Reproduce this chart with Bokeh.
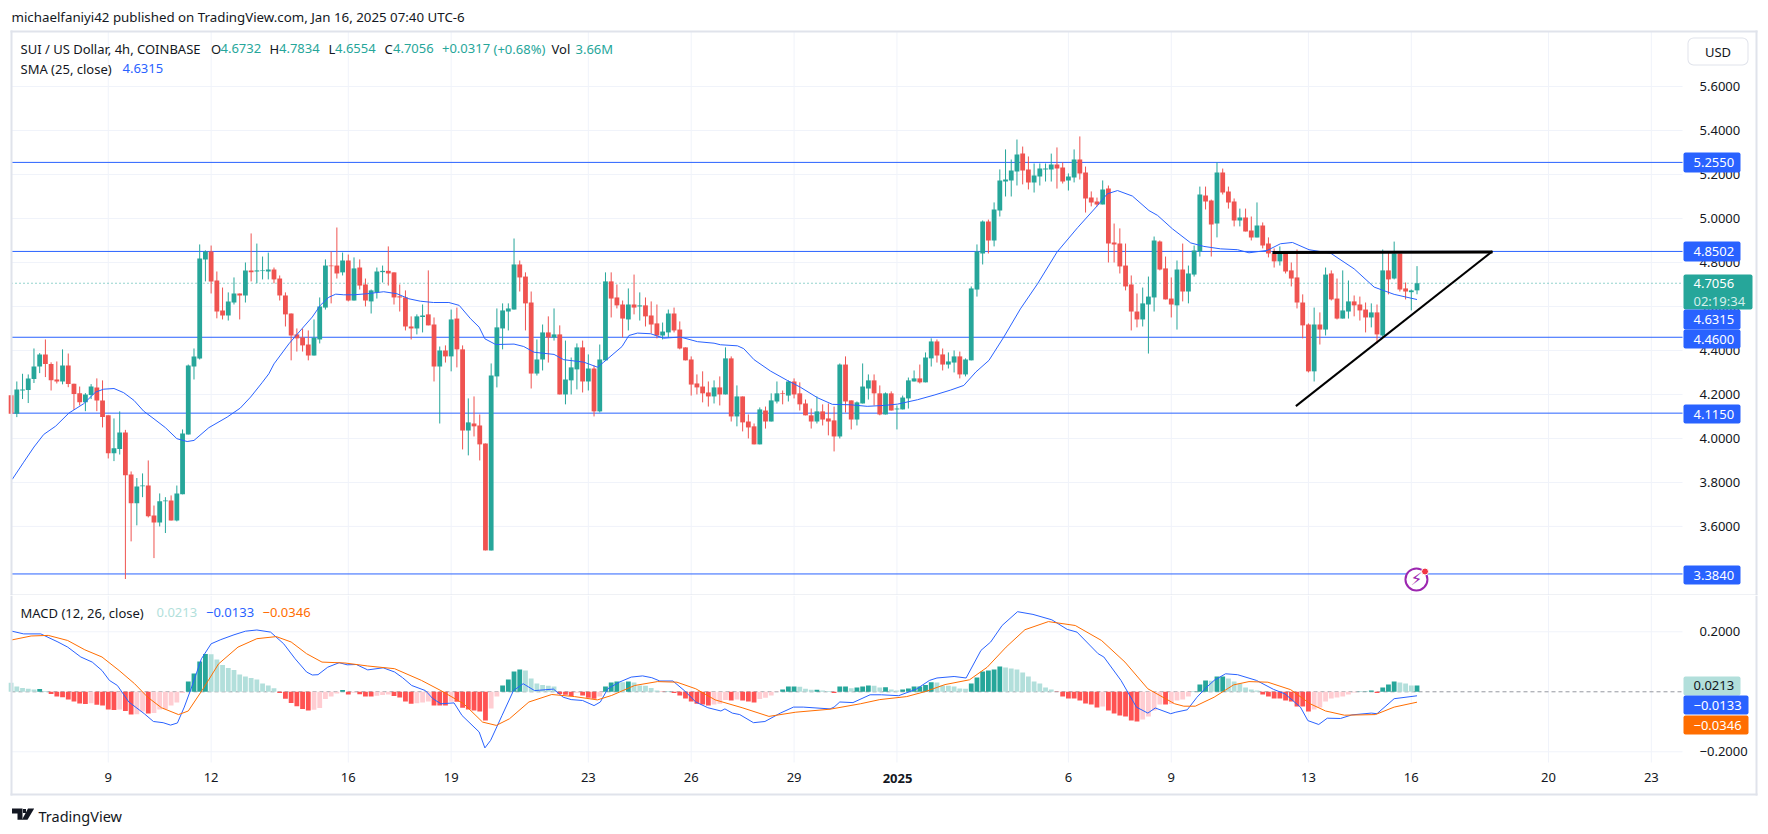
from bokeh.plotting import figure
from bokeh.layouts import column
from bokeh.embed import file_html
from bokeh.resources import INLINE
from bokeh.core.properties import value
from bokeh.models import (Range1d, FixedTicker, Label, BoxAnnotation, PolyAnnotation,
                          ColumnDataSource, NumeralTickFormatter)

opens = [4.196,4.112,4.218,4.220,4.270,4.327,4.382,4.339,4.268,4.259,4.332,4.249,4.205,4.165,4.197,4.232,4.173,4.105,3.933,3.952,
4.027,3.836,3.705,3.783,3.786,3.650,3.618,3.714,3.718,3.627,3.746,4.018,4.327,4.364,4.814,4.850,4.718,4.582,4.559,4.618,
4.659,4.650,4.764,4.759,4.761,4.759,4.768,4.727,4.650,4.568,4.473,4.459,4.427,4.377,4.450,4.595,4.786,4.786,4.755,4.809,
4.627,4.777,4.700,4.623,4.664,4.756,4.762,4.755,4.646,4.641,4.509,4.500,4.552,4.564,4.518,4.327,4.400,
4.373,4.545,4.405,4.036,4.068,4.059,3.977,3.491,4.282,4.500,4.577,4.586,4.791,4.736,4.618,4.295,4.359,4.482,4.459,4.473,4.200,
4.264,4.314,4.414,4.259,4.318,4.123,4.355,4.714,4.641,4.609,4.541,4.609,4.600,4.605,4.559,4.523,4.468,4.482,4.568,4.495,4.414,4.359,
4.250,4.236,4.209,4.191,4.232,4.200,4.364,4.100,4.191,4.077,4.055,3.973,4.127,4.077,4.168,4.205,4.195,4.259,4.205,4.159,
4.105,4.077,4.123,4.091,4.082,4.009,4.336,4.173,4.086,4.159,4.227,4.264,4.205,4.109,4.205,4.132,4.132,4.182,4.259,4.273,
4.255,4.364,4.441,4.382,4.336,
4.345,4.373,4.291,4.355,4.677,4.841,4.986,4.900,5.036,5.168,5.173,5.214,5.295,5.223,5.164,5.191,5.223,5.223,5.245,5.232,
5.173,5.186,5.268,5.209,5.095,5.077,5.064,5.136,4.891,4.886,4.786,4.700,4.577,4.541,4.609,4.641,4.895,4.773,4.636,4.605,
4.768,4.668,4.745,4.850,5.105,5.082,4.977,5.209,5.123,5.077,4.991,5.005,4.945,4.914,4.968,4.886,4.841,4.805,4.841,4.764,
4.732,4.618,4.518,4.305,4.518,4.495,4.750,4.636,4.545,4.577,4.623,4.609,4.586,4.550,4.573,4.468,4.764,4.727,4.841,4.682,4.665,4.6732]
highs = [4.196,4.259,4.294,4.291,4.409,4.388,4.450,4.346,4.350,4.405,4.386,4.249,4.236,4.206,4.247,4.273,4.264,4.105,4.091,4.123,
4.039,3.850,3.820,3.841,3.900,3.695,3.750,3.733,3.741,3.786,4.041,4.336,4.409,4.882,4.855,4.877,4.759,4.686,4.664,4.732,
4.659,4.800,4.932,4.886,4.827,4.845,4.777,4.741,4.664,4.568,4.500,4.500,4.491,4.541,4.641,4.814,4.850,4.959,4.845,4.836,
4.823,4.814,4.727,4.677,4.777,4.786,4.873,4.755,4.700,4.673,4.555,4.564,4.609,4.764,4.550,4.418,4.423,
4.586,4.595,4.423,4.182,4.191,4.109,3.977,4.341,4.591,4.614,4.614,4.909,4.809,4.755,4.668,4.450,4.518,4.555,4.591,4.514,4.445,
4.368,4.432,4.445,4.382,4.332,4.427,4.755,4.755,4.700,4.627,4.682,4.745,4.664,4.641,4.623,4.609,4.527,4.586,4.595,4.532,4.414,4.373,
4.291,4.305,4.259,4.264,4.282,4.414,4.373,4.241,4.191,4.109,4.068,4.141,4.145,4.205,4.259,4.218,4.264,4.273,4.255,4.177,
4.136,4.191,4.155,4.159,4.145,4.341,4.373,4.173,4.168,4.341,4.291,4.291,4.241,4.209,4.214,4.150,4.195,4.277,4.309,4.336,
4.391,4.455,4.450,4.409,4.391,
4.400,4.395,4.364,4.691,4.882,4.991,4.995,5.073,5.223,5.314,5.268,5.359,5.327,5.282,5.250,5.250,5.250,5.295,5.323,5.255,
5.205,5.314,5.373,5.236,5.123,5.095,5.173,5.150,4.977,4.955,4.886,4.741,4.659,4.686,4.736,4.918,4.900,4.827,4.732,4.809,
4.886,4.786,4.877,5.145,5.145,5.086,5.255,5.227,5.145,5.091,5.045,5.045,5.009,5.073,4.982,4.914,4.864,4.873,4.845,4.800,
4.859,4.655,4.523,4.595,4.573,4.777,4.764,4.727,4.764,4.718,4.650,4.645,4.618,4.614,4.609,4.859,4.845,4.895,4.841,4.709,4.677,4.7834]
lows = [4.112,4.097,4.179,4.161,4.252,4.297,4.279,4.218,4.250,4.246,4.233,4.130,4.150,4.124,4.179,4.124,4.050,3.909,3.897,3.927,
3.361,3.532,3.605,3.733,3.641,3.456,3.600,3.570,3.627,3.623,3.746,4.018,4.268,4.359,4.714,4.659,4.546,4.541,4.536,4.609,
4.541,4.618,4.714,4.705,4.723,4.723,4.705,4.627,4.509,4.355,4.395,4.395,4.355,4.377,4.432,4.586,4.614,4.727,4.741,4.623,
4.627,4.677,4.600,4.568,4.636,4.709,4.695,4.609,4.577,4.491,4.450,4.473,4.482,4.514,4.259,4.068,4.345,
4.305,4.323,3.950,3.923,4.009,3.900,3.491,3.491,4.232,4.405,4.491,4.586,4.668,4.491,4.227,4.286,4.309,4.345,4.445,4.200,4.155,
4.200,4.223,4.209,4.218,4.100,4.118,4.355,4.550,4.591,4.459,4.491,4.564,4.536,4.509,4.477,4.455,4.450,4.459,4.482,4.405,4.355,4.195,
4.200,4.164,4.145,4.159,4.150,4.200,4.077,4.055,4.032,4.000,3.973,3.973,4.045,4.077,4.159,4.155,4.168,4.182,4.127,4.105,
4.045,4.068,4.059,4.014,3.941,4.000,4.118,4.041,4.059,4.159,4.177,4.150,4.105,4.109,4.127,4.041,4.132,4.136,4.259,4.250,
4.255,4.327,4.345,4.309,4.318,
4.300,4.273,4.282,4.355,4.645,4.791,4.841,4.873,5.009,5.100,5.100,5.150,5.155,5.132,5.118,5.150,5.168,5.168,5.136,5.159,
5.127,5.164,5.177,5.027,5.055,5.055,5.064,4.800,4.800,4.750,4.673,4.491,4.505,4.509,4.386,4.577,4.764,4.632,4.550,4.495,
4.623,4.614,4.736,4.827,5.041,4.827,4.914,5.109,5.045,4.964,4.964,4.941,4.900,4.914,4.864,4.823,4.777,4.786,4.750,4.691,
4.591,4.455,4.300,4.259,4.427,4.468,4.627,4.541,4.545,4.545,4.555,4.536,4.482,4.505,4.432,4.459,4.655,4.723,4.668,4.632,4.582,4.6554]
closes = [4.112,4.223,4.223,4.273,4.327,4.382,4.338,4.265,4.259,4.332,4.247,4.202,4.165,4.200,4.236,4.173,4.097,3.933,3.955,4.027,
3.833,3.705,3.782,3.786,3.646,3.618,3.714,3.718,3.627,3.750,4.023,4.332,4.373,4.818,4.850,4.714,4.577,4.559,4.623,4.659,
4.650,4.764,4.755,4.764,4.764,4.768,4.723,4.650,4.564,4.468,4.455,4.423,4.377,4.458,4.600,4.786,4.783,4.750,4.809,4.627,
4.773,4.695,4.627,4.673,4.759,4.762,4.750,4.641,4.641,4.509,4.500,4.555,4.559,4.514,4.327,4.400,4.373,
4.541,4.405,4.036,4.073,4.055,3.973,3.491,4.286,4.505,4.582,4.591,4.791,4.732,4.614,4.295,4.359,4.482,4.459,4.473,4.200,4.268,
4.323,4.414,4.259,4.318,4.123,4.359,4.714,4.636,4.605,4.545,4.609,4.595,4.605,4.555,4.518,4.468,4.486,4.568,4.491,4.409,4.355,4.245,
4.232,4.205,4.191,4.232,4.200,4.364,4.100,4.191,4.073,4.050,3.973,4.132,4.077,4.173,4.205,4.202,4.259,4.200,4.155,4.105,
4.077,4.123,4.086,4.077,4.009,4.336,4.168,4.086,4.164,4.236,4.264,4.205,4.109,4.205,4.127,4.136,4.186,4.264,4.273,4.255,
4.368,4.441,4.377,4.336,4.350,
4.373,4.291,4.359,4.682,4.850,4.986,4.900,5.041,5.173,5.177,5.218,5.291,5.218,5.164,5.195,5.227,5.227,5.245,5.227,5.168,
5.191,5.268,5.205,5.091,5.073,5.064,5.132,4.886,4.882,4.782,4.691,4.577,4.541,4.614,4.645,4.900,4.768,4.632,4.609,4.768,
4.668,4.750,4.855,5.109,5.077,4.973,5.209,5.118,5.073,4.991,5.005,4.941,4.914,4.968,4.877,4.841,4.805,4.845,4.759,4.727,
4.618,4.514,4.305,4.518,4.495,4.745,4.632,4.545,4.582,4.623,4.605,4.582,4.550,4.573,4.473,4.764,4.723,4.841,4.677,4.668,4.673,4.7056]

sma_x = [0.2,2.2,4,5.7,7.8,10.1,12.7,14.8,16.2,18,19.7,21.5,23.2,25,27,29,30.8,32,34.6,37.8,40.1,41.9,43.9,45.1,46,48.6,50.9,52.7,54.1,55.6,56.8,58.2,60,62.3,65.2,67.5,69.6,71.6,73.9,76.6,
78.4,80.4,81.9,82.9,84.8,88,89.7,91.5,95,96.7,100.2,102.6,103.7,106.9,108.1,109.6,111.9,114.2,117.1,120.1,123,124.1,127.1,128.2,130,132.9,135.8,138.1,141.1,143.7,146.9,149.8,152.7,155.1,158.6,161.5,164.4,
166.7,168.8,171.1,173.7,176.6,179.6,183,186.6,190.1,191.8,193.6,196.2,199.1,200.6,203.2,206.4,208.7,211.6,214.6,216.6,219.8,222.1,224.2,227.1,230.9,235,238.5,242,246]
sma_y = [3.814,3.892,3.961,4.018,4.056,4.115,4.158,4.211,4.224,4.227,4.208,4.173,4.124,4.089,4.049,3.999,3.986,3.991,4.049,4.097,4.138,4.188,4.253,4.294,4.339,4.430,4.499,4.552,4.605,4.642,4.656,4.653,4.653,4.658,4.667,4.658,4.635,4.624,4.618,4.618,
4.605,4.544,4.506,4.453,4.427,4.429,4.418,4.392,4.382,4.358,4.347,4.324,4.347,4.418,4.468,4.479,4.476,4.456,4.461,4.440,4.433,4.426,4.421,4.408,4.358,4.306,4.264,4.233,4.185,4.155,4.153,4.146,4.150,4.156,4.176,4.197,4.220,
4.241,4.302,4.355,4.461,4.589,4.703,4.847,4.958,5.059,5.112,5.127,5.102,5.036,5.014,4.953,4.889,4.873,4.862,4.858,4.844,4.855,4.885,4.891,4.858,4.842,4.771,4.688,4.655,4.6315]

macd_x = [0.15,2.2,5.2,8.2,9.9,12.2,14.2,15.9,17.2,18.6,20.6,23.3,24.9,26.6,27.9,29.1,30.3,31.6,33.3,35,36.7,39,41,43,45.4,47.7,49.7,51.7,52.7,53.7,55.4,57.4,58.8,60.4,62.4,65.1,67.1,68.5,70.1,72.5,73.8,75.2,77.5,78.9,81.9,82.9,83.9,85.9,87.9,89.6,91.6,94.9,96.6,98,100,102,
103.1,104.4,106.4,108.5,110.5,112.1,113.5,115.8,117.8,119.8,121.9,124.2,124.9,126.2,127.5,129.9,131.9,134.6,136.9,138.6,143.3,144,145,147.3,150.3,152.3,155.3,158.4,160.7,162,165,167.1,169.7,171.4,173.4,176.1,178.8,182.1,184.8,186.5,190.2,191.2,194.2,196.9,198.9,200.2,202.9,
203.8,205.8,207.5,208.9,210.5,212.5,214.6,217.9,220.9,222.9,225.6,226.9,228.8,230.3,232.6,234.6,238,239,242,246]
macd_y = [.202,.193,.193,.166,.149,.116,.099,.071,.038,.021,-.034,-.073,-.099,-.103,-.111,-.104,-.051,.016,.110,.160,.174,.190,.202,.206,.199,.160,.110,.066,.056,.057,.082,.097,.090,.091,.073,.080,.066,.047,.021,.004,-.023,-.040,-.037,-.079,-.134,-.187,-.162,-.079,.004,.027,.004,.009,-.018,-.026,-.029,-.046,
-.034,.010,.032,.049,.053,.047,.036,.036,.004,-.034,-.053,-.064,-.057,-.071,-.076,-.103,-.099,-.071,-.051,-.051,-.057,-.051,-.034,-.036,-.010,-.010,-.013,.009,.038,.046,.051,.046,.138,.166,.221,.267,.258,.240,.208,.199,.127,.116,.038,-.051,-.071,-.054,-.073,
-.068,-.060,-.018,.010,.038,.060,.057,.038,.008,-.007,-.051,-.096,-.109,-.088,-.089,-.077,-.071,-.073,-.023,-.0133]
signal_x = [0.15,3.5,6.5,9.9,12.9,15.9,18.9,21.6,23.9,26.3,29.3,31,33.6,36.3,39.7,43,46.4,49,51.7,54.4,58.4,62.4,67.1,71.8,75.2,79.2,82.5,84.9,87.2,90.6,94.6,98.6,102.6,
105.1,109.1,113.1,116.5,119.8,123.2,127.9,132.6,137.3,143.3,148.6,152,156.7,160,163.4,167.7,170.8,174.1,177.4,181.5,186.2,190.8,194.9,198.9,203.6,
205.2,207.2,210.5,213.9,216.6,219.9,223.9,227.3,230,233.3,238.7,242,246]
signal_y = [.173,.186,.188,.171,.140,.116,.071,.027,-.018,-.053,-.076,-.064,.010,.093,.149,.177,.184,.166,.127,.099,.096,.086,.077,.038,.004,-.040,-.101,-.112,-.090,-.034,-.009,-.016,-.027,
-.012,.021,.034,.032,.010,-.027,-.053,-.082,-.068,-.058,-.040,-.026,-.016,.001,.024,.040,.082,.149,.207,.234,.221,.171,.099,.010,-.040,
-.048,-.048,-.018,.023,.034,.032,.007,-.040,-.064,-.078,-.076,-.051,-.0346]
hist = [.030,.018,.013,.010,.008,.009,.003,
-.007,-.016,-.018,-.026,-.032,-.039,-.041,-.038,-.043,-.046,-.059,-.061,-.059,-.064,-.076,-.075,-.066,-.072,-.071,-.059,-.058,-.046,-.036,-.004,
.034,.061,.101,.126,.125,.108,.089,.079,.073,.058,.051,.046,.041,.028,.021,.012,
-.004,-.023,-.037,-.048,-.057,-.062,-.060,-.054,-.024,-.016,-.006,
.006,
-.009,-.003,-.008,-.016,-.016,-.013,-.011,-.009,-.014,-.019,-.032,-.040,-.038,-.036,-.032,-.046,-.046,-.046,-.033,-.033,-.053,-.059,-.062,-.066,-.096,-.056,-.016,
.021,.041,.068,.074,.071,.044,.028,.023,.020,.018,
-.007,-.010,-.014,-.003,-.012,-.020,-.023,-.016,
.018,.031,.034,.032,.034,.031,.021,.020,.013,.004,-.001,.001,-.004,-.012,-.022,-.032,-.040,-.042,-.046,-.042,-.040,-.027,-.029,-.026,-.029,-.032,-.036,-.024,-.020,-.012,-.001,
.008,.018,.018,.017,.010,.007,.007,.004,.003,-.004,.018,.018,.012,.014,.018,.021,.020,.014,.015,.008,.004,.008,.011,.018,.018,.023,.032,.031,.021,.020,.018,.011,.010,
.028,.048,.068,.071,.074,.084,.081,.078,.074,.064,.051,.034,.028,.014,.008,
-.001,-.016,-.022,-.022,-.029,-.039,-.042,-.052,-.049,-.062,-.072,-.079,-.082,-.096,-.099,-.092,-.082,-.062,-.042,-.042,-.041,-.029,-.026,-.016,.001,
.024,.038,.037,.051,.051,.044,.034,.028,.014,.008,.004,-.009,-.016,-.022,-.022,-.029,-.032,-.049,-.049,-.066,-.059,-.052,-.032,-.022,-.019,-.016,-.009,-.002,.001,.001,.004,-.004,.014,.024,.034,.031,.028,.021,.0213]

levels = [5.255, 4.8502, 4.46, 4.115, 3.384]
price_ticks = [3.6,3.8,4.0,4.2,4.4,4.6,4.8,5.0,5.2,5.4,5.6]
macd_ticks = [-0.2, 0.2]
day_bars = [17,35,59,77,101,119,137,155,185,203,227,245,269,287]
day_labels = ["9","12","16","19","23","26","29"," ","6","9","13","16","20","23"]
trend_x = [224.8, 259.2]
trend_y = [4.147, 4.851]
flat_x = [220.7, 259.2]
flat_y = [4.845, 4.848]
last_price = 4.7056

BLUE="#2962ff"; UP="#26a69a"; DOWN="#ef5350"; INK="#131722"; GRID="#f0f3fa"; EDGE="#e0e3eb"
FONT="Noto Sans"
XR=(-1.855,307.5)          # whole canvas width
PANE_L, PANE_R = 0.07, 292.46   # bars range covered by the panes
TOP_H, LOW_H = 595, 239

def mk(h, yr, y0, y1, ticks, **kw):
    p = figure(width=1768, height=h, frame_width=1768, frame_height=h,
               x_range=Range1d(*XR), y_range=Range1d(*yr), y_axis_location="right",
               toolbar_location=None, output_backend="svg",
               min_border_left=0, min_border_right=0, min_border_top=0, min_border_bottom=0,
               outline_line_color=None, **kw)
    p.grid.visible = False
    n=len(day_bars); m=len(ticks)
    p.segment(day_bars,[y0]*n,day_bars,[y1]*n,color=GRID,line_width=1,level="underlay")
    p.segment([PANE_L]*m,ticks,[PANE_R]*m,ticks,color=GRID,line_width=1,level="underlay")
    a=p.yaxis[0]
    a.fixed_location=PANE_R
    a.ticker=FixedTicker(ticks=ticks)
    a.axis_line_color=None; a.major_tick_line_color=None; a.minor_tick_line_color=None
    a.major_label_standoff=11
    a.major_label_text_font=FONT; a.major_label_text_font_size="13px"; a.major_label_text_color=INK
    return p

class Pane:
    def __init__(s, fig, bottom): s.f=fig; s.b=bottom
    def text(s, x, y, t, color=INK, size="13px", style="normal", align="left"):
        s.f.add_layout(Label(x=x, y=s.b-y, x_units="screen", y_units="screen", text=t, text_color=color,
            text_font=FONT, text_font_size=size, text_font_style=style, text_baseline="middle", text_align=align))
    def box(s, x0, x1, y0, y1, color, radius=0):
        s.f.add_layout(BoxAnnotation(left=x0, right=x1, top=s.b-y0, bottom=s.b-y1,
            left_units="screen", right_units="screen", top_units="screen", bottom_units="screen",
            fill_color=color, fill_alpha=1, line_color=None, border_radius=radius))
    def tag(s, y0, y1, t, color, x1=1740, tc="white"):
        s.box(1683, x1, y0, y1, color, 2)
        s.text(1693, (y0+y1)/2, t, tc)
    def poly(s, xs, ys, color):
        s.f.add_layout(PolyAnnotation(xs=list(xs), ys=[s.b-y for y in ys], xs_units="screen", ys_units="screen",
            fill_color=color, fill_alpha=1, line_color=None))

# ---- main pane
p = mk(TOP_H, (3.286, 5.991), 3.286, 5.85, price_ticks, x_axis_location=None)
p.yaxis[0].formatter = NumeralTickFormatter(format="0.0000")
idx = list(range(len(closes)))
src = ColumnDataSource(dict(x=idx, o=opens, h=highs, l=lows, c=closes,
                            col=[UP if c>=o else DOWN for o,c in zip(opens,closes)]))
p.line([PANE_L,PANE_R],[last_price,last_price],color=UP,line_dash="1 3",line_width=1)
for lv in levels:
    p.line([PANE_L,PANE_R],[lv,lv],color=BLUE,line_width=1)
p.segment("x","h","x","l",source=src,color="col",line_width=1)
p.vbar("x",0.84,"o","c",source=src,fill_color="col",line_color=None)
p.line(sma_x, sma_y, color=BLUE, line_width=1)
p.line(trend_x, trend_y, color="#000000", line_width=2)
p.line(flat_x, flat_y, color="#000000", line_width=3)
p.scatter([245.9],[3.359],size=22,fill_color="white",line_color="#9c27b0",line_width=2)
p.text([245.9],[3.359],text=["\u26a1"],text_color="#9c27b0",text_font_size="17px",text_font=value("DejaVu Sans"),text_align="center",text_baseline="middle")
p.scatter([247.4],[3.395],size=7,fill_color="#f23645",line_color="white",line_width=1)

P=Pane(p,TOP_H)
P.box(10,1757,30,32,EDGE); P.box(10,12,30,595,EDGE); P.box(1755,1757,30,595,EDGE); P.box(10,1757,594,595,EDGE)
P.text(11,16,"michaelfaniyi42 published on TradingView.com, Jan 16, 2025 07:40 UTC-6",size="13.3px")
P.text(20,48,"SUI / US Dollar, 4h, COINBASE")
for x,t in [(210.5,"O"),(269,"H"),(328,"L"),(384,"C")]: P.text(x,48,t)
for x,t in [(220,"4.6732"),(278.5,"4.7834"),(334.5,"4.6554"),(392.5,"4.7056"),(441.5,"+0.0317"),(493,"(+0.68%)"),(575,"3.66M")]:
    P.text(x,48,t,UP)
P.text(551,48,"Vol")
P.text(20,68,"SMA (25, close)")
P.text(122,68,"4.6315",BLUE)
P.box(1687,1748,37,65,EDGE,6); P.box(1688,1747,38,64,"white",5)
P.text(1717.5,51,"USD",align="center")
P.tag(152,172,"5.2550",BLUE)
P.tag(241,261,"4.8502",BLUE)
P.box(1683,1752,274,309,UP,2)
P.text(1693,283,"4.7056","white"); P.text(1693,300,"02:19:34","#d4efec")
P.tag(309,329,"4.6315",BLUE)
P.tag(329,348,"4.4600",BLUE)
P.tag(404,423,"4.1150",BLUE)
P.tag(565,584,"3.3840",BLUE)

# ---- MACD pane
q = mk(LOW_H, (-0.4757, 0.321), -0.2357, 0.321, macd_ticks)
q.yaxis[0].major_label_overrides = {0.2:"0.2000", -0.2:"\u22120.2000"}
x_ax=q.xaxis[0]
x_ax.fixed_location=-0.2024
x_ax.ticker = FixedTicker(ticks=day_bars)
x_ax.major_label_overrides = dict(zip(day_bars, day_labels))
x_ax.axis_line_color=None; x_ax.major_tick_line_color=None; x_ax.minor_tick_line_color=None
x_ax.major_label_standoff=9
x_ax.major_label_text_font=FONT; x_ax.major_label_text_font_size="13px"; x_ax.major_label_text_color=INK
cols=[]
for i,v in enumerate(hist):
    prev = hist[i-1] if i else 1
    if v>=0: cols.append("#26a69a" if v>=prev else "#b2dfdb")
    else: cols.append("#ff5252" if v<=prev else "#ffcdd2")
q.line([PANE_L,PANE_R],[0,0],color="#9598a1",line_dash="4 3",line_width=1)
q.vbar(list(range(len(hist))),0.84,0,hist,fill_color=cols,line_color=None)
q.line(macd_x,macd_y,color=BLUE,line_width=1)
q.line(signal_x,signal_y,color="#ff6d00",line_width=1)

Q=Pane(q,834)
Q.box(10,12,595,795,EDGE); Q.box(1755,1757,595,795,EDGE); Q.box(10,1757,793,795,EDGE)
Q.text(20,612,"MACD (12, 26, close)")
Q.text(156,612,"0.0213","#b2dfdb")
Q.text(205.5,612,"\u22120.0133",BLUE)
Q.text(262,612,"\u22120.0346","#ff6d00")
Q.text(897,778,"2025",style="bold",align="center")
Q.box(1683,1740,676,695,"#b2dfdb",2); Q.text(1693,685,"0.0213",INK)
Q.tag(695,714,"\u22120.0133",BLUE,x1=1748)
Q.tag(715,734,"\u22120.0346","#ff6d00",x1=1748)
Q.poly([11.5,22,22,17,17,11.5],[808,808,819.3,819.3,813,813],INK)
Q.poly([22.5,25.5,25.5,22.5],[808.5,808.5,812.5,812.5],INK)
Q.poly([27.5,33.7,27,21.5],[808,808,819.3,819.3],INK)
Q.text(38,815,"TradingView",INK,"14.5px")

open("out.html","w").write(file_html(column(p,q,spacing=0),INLINE))
